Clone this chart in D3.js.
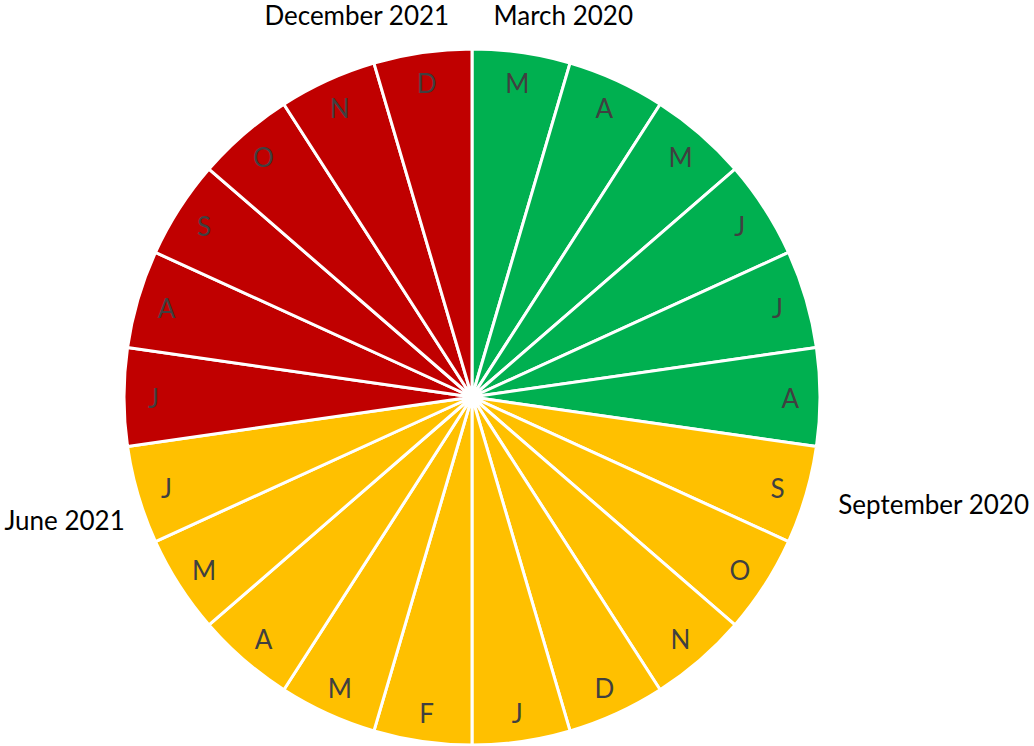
<!DOCTYPE html>
<html>
<head>
<meta charset="utf-8">
<script src="https://cdn.jsdelivr.net/npm/d3@7"></script>
<style>
  html, body { margin: 0; padding: 0; background: #fff; }
  svg { display: block; }
</style>
</head>
<body>
<div id="svg-container"></div>
<script>
// Data
const months = ['M', 'A', 'M', 'J', 'J', 'A', 'S', 'O', 'N', 'D', 'J', 'F', 'M', 'A', 'M', 'J', 'J', 'A', 'S', 'O', 'N', 'D']
const phases = [
  'green', 'green', 'green', 'green', 'green', 'green',
  'yellow', 'yellow', 'yellow', 'yellow', 'yellow', 'yellow', 'yellow', 'yellow', 'yellow', 'yellow',
  'red', 'red', 'red', 'red', 'red', 'red',
]
const sliceValues = months.map(() => 1)
const outerLabels = ['March 2020', 'September 2020', 'June 2021', 'December 2021']
const outerLabelSlices = [0, 6, 15, 21]

const width = 1034
const height = 746
const cx = 472
const cy = 397
const radius = 348

const colorScale = d3.scaleOrdinal()
  .domain(['green', 'yellow', 'red'])
  .range(['#00B050', '#FFC000', '#C00000'])

const svg = d3.select('#svg-container')
  .append('svg')
  .attr('width', width)
  .attr('height', height)

const chartCore = svg.append('g')
  .attr('transform', `translate(${cx}, ${cy})`)

const pie = d3.pie().sort(null).startAngle(0).endAngle(2 * Math.PI)
const arcs = pie(sliceValues)

const arc = d3.arc().innerRadius(0).outerRadius(radius)
const labelArc = d3.arc().innerRadius(radius * 0.915).outerRadius(radius * 0.915)

chartCore.selectAll('path.slice')
  .data(arcs)
  .join('path')
  .attr('class', 'slice')
  .attr('d', arc)
  .attr('fill', (d, i) => colorScale(phases[i]))
  .attr('stroke', '#fff')
  .attr('stroke-width', 3)
  .attr('stroke-linejoin', 'round')

chartCore.selectAll('text.month')
  .data(arcs)
  .join('text')
  .attr('class', 'month')
  .attr('transform', d => `translate(${labelArc.centroid(d)})`)
  .attr('text-anchor', 'middle')
  .attr('dy', '0.42em')
  .style('font-family', 'Lato, "Open Sans", sans-serif')
  .style('font-size', '26px')
  .style('fill', '#404040')
  .text((d, i) => months[i])

// outer labels: placed just beyond the rim, nudged like the original layout
const outerArc = d3.arc().innerRadius(radius + 40).outerRadius(radius + 40)
const nudges = [
  { dx: 36, dy: 3, anchor: 'middle' },
  { dx: -6, dy: -2, anchor: 'start' },
  { dx: 25, dy: 14, anchor: 'end' },
  { dx: -60, dy: 3, anchor: 'middle' },
]

chartCore.selectAll('text.outer')
  .data(outerLabelSlices)
  .join('text')
  .attr('class', 'outer')
  .attr('transform', (s, i) => {
    const [x, y] = outerArc.centroid(arcs[s])
    return `translate(${x + nudges[i].dx}, ${y + nudges[i].dy})`
  })
  .attr('text-anchor', (s, i) => nudges[i].anchor)
  .attr('dy', '0.36em')
  .style('font-family', 'Lato, "Open Sans", sans-serif')
  .style('font-size', '26px')
  .style('fill', '#000')
  .text((s, i) => outerLabels[i])
</script>
</body>
</html>
